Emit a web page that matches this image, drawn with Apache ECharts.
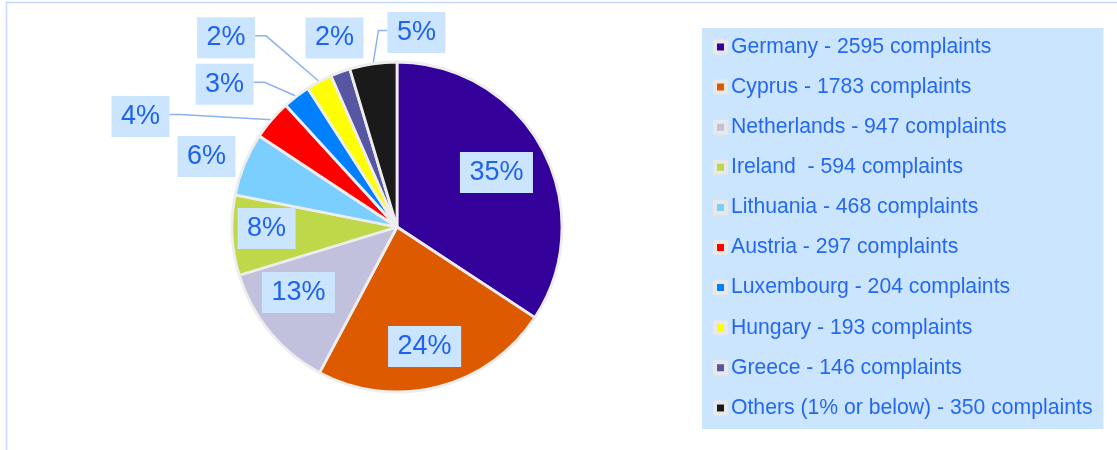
<!DOCTYPE html>
<html>
<head>
<meta charset="utf-8">
<script src="https://cdn.jsdelivr.net/npm/echarts@6/dist/echarts.min.js"></script>
<style>
html,body{margin:0;padding:0;background:#fff;}
#c{width:1117px;height:450px;}
</style>
</head>
<body>
<div id="c"></div>
<script>
// ---- data ----
const countries = ['Germany', 'Cyprus', 'Netherlands', 'Ireland ', 'Lithuania', 'Austria', 'Luxembourg', 'Hungary', 'Greece', 'Others (1% or below)'];
const complaints = [2595, 1783, 947, 594, 468, 297, 204, 193, 146, 350];
const pctLabels = ['35%', '24%', '13%', '8%', '6%', '4%', '3%', '2%', '2%', '5%'];

// ---- styles ----
const colors = ['#330099', '#DD5A00', '#C1C1DE', '#BED84A', '#7ACFFF', '#FF0000', '#0080FF', '#FFFF00', '#5656A2', '#1A1A1A'];
// label placement: [angle clockwise from top (deg), distance as fraction of radius]
const labelPlace = [[61.3, 0.683], [167.0, 0.739], [236.4, 0.713], [269.3, 0.786], [290.3, 1.224],
                    [293.3, 1.683], [309.6, 1.348], [317.9, 1.536], [341.7, 1.199], [5.7, 1.178]];
const leader = [false, false, false, false, false, true, true, true, false, true];

const CX = 397, CY = 227, R = 165, RP = 166;
const total = complaints.reduce((a, b) => a + b, 0);
const midAngles = [];
{ let cum = 0; complaints.forEach(v => { midAngles.push(2 * Math.PI * (cum + v / 2) / total); cum += v; }); }

const names = countries.map((c, i) => c + ' - ' + complaints[i] + ' complaints');
const chart = echarts.init(document.getElementById('c'), null, {renderer: 'canvas'});

chart.setOption({
  animation: false,
  color: colors,
  graphic: [{
    type: 'rect', silent: true, z: -10,
    shape: {x: 6.5, y: 2.5, width: 1200, height: 600},
    style: {fill: 'none', stroke: '#c8dafc', lineWidth: 1.5}
  }],
  legend: {
    orient: 'vertical',
    left: 702, top: 28,
    padding: [8, 11, 10, 11],
    backgroundColor: '#CCE5FF',
    itemWidth: 11, itemHeight: 11,
    itemGap: 18.1,
    icon: 'rect',
    selectedMode: false,
    itemStyle: {borderColor: '#e8e8e8', borderWidth: 4},
    textStyle: {fontFamily: 'Liberation Sans', fontSize: 21.2, lineHeight: 22, color: '#2468f2'},
    data: names
  },
  series: [{
    type: 'pie',
    center: [CX, CY],
    radius: R,
    startAngle: 90,
    clockwise: true,
    avoidLabelOverlap: false,
    itemStyle: {borderColor: '#ededed', borderWidth: 2.8},
    emphasis: {disabled: true},
    label: {
      show: true,
      position: 'outside',
      formatter: p => pctLabels[p.dataIndex],
      fontFamily: 'Liberation Sans',
      fontSize: 27,
      color: '#1e62f0',
      backgroundColor: '#CCE5FF',
      padding: [7, 9.5]
    },
    labelLine: {show: true, lineStyle: {color: '#8db2f2', width: 1.5}},
    labelLayout: function (params) {
      const i = params.dataIndex;
      const a = labelPlace[i][0] * Math.PI / 180;
      const f = labelPlace[i][1];
      const lx = CX + f * RP * Math.sin(a);
      const ly = CY - f * RP * Math.cos(a);
      const w = params.labelRect.width;
      const res = {x: lx, y: ly, align: 'center', verticalAlign: 'middle'};
      if (leader[i]) {
        const m = midAngles[i];
        const ax = CX + R * Math.sin(m), ay = CY - R * Math.cos(m);
        const x0 = lx - w / 2, x1 = lx + w / 2;
        let edgeX, elbowX;
        if (ax > x1) { edgeX = x1; elbowX = x1 + 11; }
        else { edgeX = x0; elbowX = x0 - 9; }
        res.labelLinePoints = [[ax, ay], [elbowX, ly - 2], [edgeX, ly - 2]];
      }
      return res;
    },
    data: names.map((n, i) => ({
      name: n,
      value: complaints[i],
      labelLine: {show: leader[i]}
    }))
  }]
});
</script>
</body>
</html>
